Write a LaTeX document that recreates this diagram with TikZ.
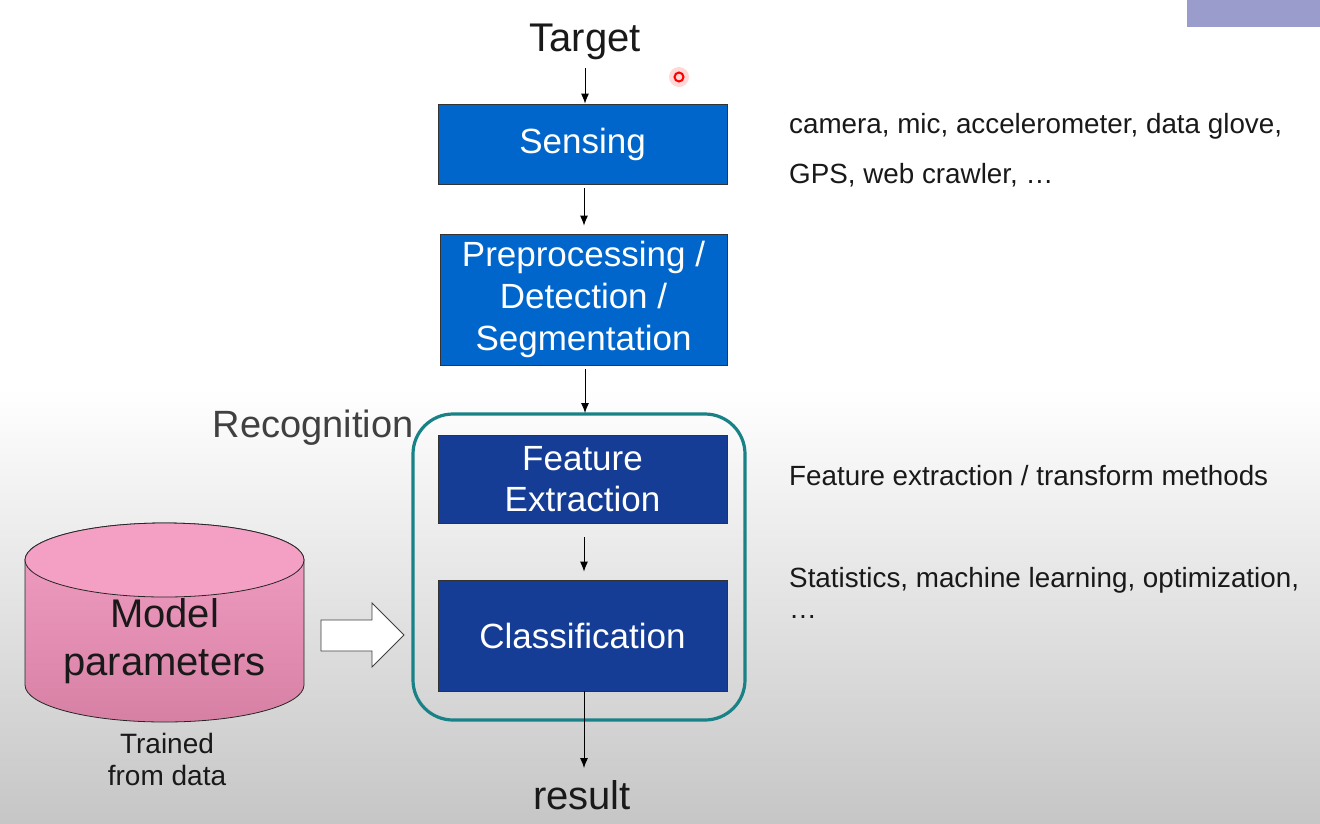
\documentclass[tikz,border=0pt]{standalone}
\usepackage{fontspec}
\setmainfont{Liberation Sans}
\usetikzlibrary{arrows.meta}
\definecolor{boxblue}{RGB}{0,102,204}
\definecolor{darkblue}{RGB}{22,61,150}
\definecolor{teal2}{RGB}{24,130,135}
\definecolor{pinkt}{RGB}{243,160,196}
\definecolor{pinkb}{RGB}{214,128,164}
\definecolor{bggray}{RGB}{198,198,198}
\definecolor{purp}{RGB}{154,156,203}
\definecolor{txt}{RGB}{25,25,25}
\tikzset{
  x=1pt, y=-1pt,
  flowbox/.style={draw=black!80, line width=0.8pt, text=white, align=center, inner sep=0pt, font=\fontsize{35}{42}\selectfont},
  conn/.style={-{Latex[length=10pt,width=8pt]}, line width=0.9pt, black},
  note/.style={anchor=west, font=\fontsize{27.8}{38}\selectfont, text=txt, align=left, inner sep=0pt},
}
\begin{document}
\begin{tikzpicture}
\useasboundingbox (0,0) rectangle (1320,823);
% background
\fill[white] (0,0) rectangle (1320,390);
\shade[top color=white, bottom color=bggray] (0,389) rectangle (1320,823);
\fill[purp] (1187,0) rectangle (1320,27);
% pointer dot
\fill[red!30, opacity=0.5] (679,77) circle (10);
\draw[red, line width=2pt, fill=red!15] (679,77) circle (4.5);

% texts
\node[font=\fontsize{40}{44}\selectfont, text=txt, inner sep=0pt] (target) at (585,42) {Target};
\node[flowbox, fill=boxblue, minimum width=289, minimum height=80] (sens) at (582.5,144) {Sensing};
\node[flowbox, fill=boxblue, minimum width=287, minimum height=131] (pre) at (583.5,299.5) {Preprocessing /\\Detection /\\Segmentation};
\draw[teal2, line width=3.2pt, rounded corners=40] (413,414) rectangle (745,720);
\node[flowbox, fill=darkblue, minimum width=289, minimum height=88, font=\fontsize{35}{41}\selectfont] (feat) at (582.5,479) {Feature\\Extraction};
\node[flowbox, fill=darkblue, minimum width=289, minimum height=111] (cls) at (582.5,635.5) {Classification};
\node[font=\fontsize{40}{44}\selectfont, text=txt, inner sep=0pt] (result) at (582,795) {result};
\node[font=\fontsize{38}{42}\selectfont, text=black!75, inner sep=0pt] (recog) at (313,428) {Recognition};

\coordinate (t1) at (585,68);
\coordinate (x1) at (584,0);
\coordinate (x2) at (585,0);
\draw[conn] (t1) -- (t1 |- sens.north);
\draw[conn] ([yshift=-4]sens.south -| x1) -- ([yshift=8]pre.north -| x1);
\draw[conn] ([yshift=-4]pre.south -| x2) -- (585,413);
\draw[conn] ([yshift=-14]feat.south -| x1) -- ([yshift=8]cls.north -| x1);
\coordinate (r1) at (584,768);
\draw[conn] (cls.south -| x1) -- (r1);

% cylinder
\path[top color=pinkt, bottom color=pinkb, draw=black!85, line width=0.8pt]
  (25,560) -- (25,685) arc[start angle=180, end angle=0, x radius=139.5, y radius=37] -- (304,560) arc[start angle=0, end angle=-180, x radius=139.5, y radius=37] -- cycle;
\draw[black!85, line width=0.8pt, fill=pinkt] (164.5,560) ellipse[x radius=139.5, y radius=37];
\node[font=\fontsize{40}{48}\selectfont, text=txt, align=center, inner sep=0pt] (model) at (164.5,641) {Model\\parameters};
\node[font=\fontsize{28}{32}\selectfont, text=txt, align=center, inner sep=0pt] (trained) at (167,759) {Trained\\from data};

% block arrow
\draw[black!75, fill=white, line width=0.8pt, line join=miter]
  (321,620) -- (372,620) -- (372,603) -- (404,635) -- (372,667) -- (372,651) -- (321,651) -- cycle;

% notes
\node[note] (n1) at (789,126) {camera, mic, accelerometer, data glove,};
\node[note] (n2) at (789,175) {GPS, web crawler, …};
\node[note] (n3) at (789,476) {Feature extraction / transform methods};
\node[note] (n4) at (789,580) {Statistics, machine learning, optimization,};
\node[note] (n5) at (789,617) {…};
\end{tikzpicture}
\end{document}
